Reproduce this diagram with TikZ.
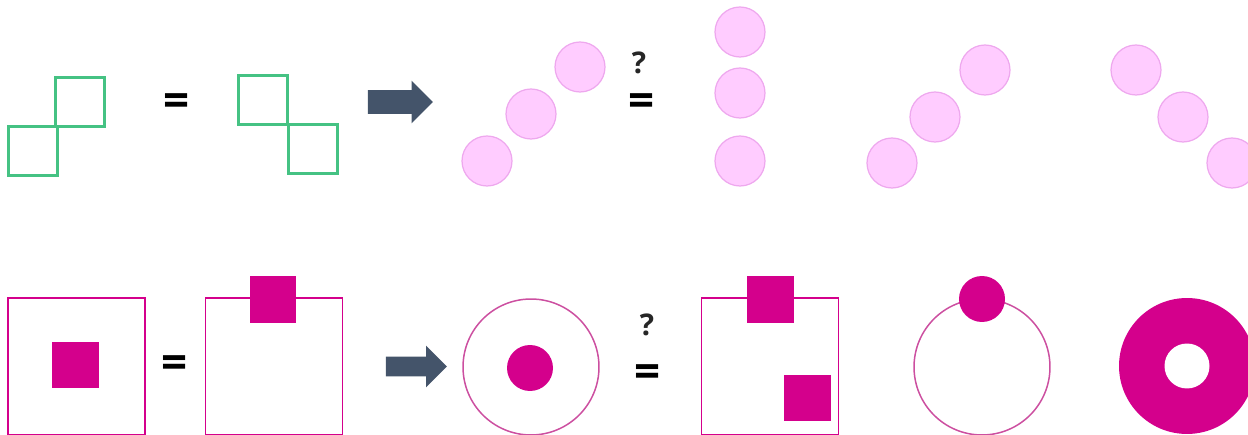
\documentclass[tikz,border=0pt]{standalone}
\usepackage{xcolor}
\usepackage{fontspec}
\setmainfont{Open Sans}
\usepackage{tikz}
\usetikzlibrary{shapes.arrows}
\definecolor{tilegreen}{HTML}{45C283}
\definecolor{dotpink}{HTML}{FFCCFF}
\definecolor{dotrim}{HTML}{EEA8EE}
\definecolor{shapemag}{HTML}{D4008C}
\definecolor{ringmag}{HTML}{CC4FA0}
\definecolor{arrowslate}{HTML}{44546A}

\begin{document}
\begin{tikzpicture}[x=0.02cm, y=-0.02cm,
  every node/.style={inner sep=0pt, outer sep=0pt},
  tile/.style={draw=tilegreen, line width=1.2pt, minimum size=0.98cm},
  dot/.style={circle, draw=dotrim, fill=dotpink, line width=0.7pt, minimum size=1cm},
  frame/.style={draw=shapemag, line width=0.85pt, minimum size=2.74cm},
  ring/.style={circle, draw=ringmag, line width=0.85pt, minimum size=2.72cm},
  block/.style={fill=shapemag, minimum size=0.94cm},
  blob/.style={circle, fill=shapemag, minimum size=0.92cm},
  sign/.style={font=\fontsize{26}{26}\selectfont\bfseries},
  ask/.style={font=\fontsize{17}{17}\selectfont\bfseries, text=black!85},
  push/.style={single arrow, fill=arrowslate, single arrow head extend=0.19cm,
    inner ysep=0.23cm, inner xsep=0pt, minimum height=1.3cm}]
  \useasboundingbox (0,0) rectangle (1248,435);
  \clip (0,0) rectangle (1248,435);

  % top row: green tiles, then the pink dots
  \node[tile] (tA) at (33,151) {};
  \node[tile] (tB) at (80,102) {};
  \node[sign] (eqA) at (177,105) {=};
  \node[tile] (tC) at (263,100) {};
  \node[tile] (tD) at (313,149) {};
  \node[push] (goA) at (394.5,102) {};

  \node[dot] (dA) at (487,161) {};
  \node[dot] (dB) at (531,114) {};
  \node[dot] (dC) at (580,67) {};
  \node[ask] (qA) at (639,63) {?};
  \node[sign] (eqB) at (642,105) {=};
  \node[dot] (vA) at (740,32) {};
  \node[dot] (vB) at (740,93) {};
  \node[dot] (vC) at (740,161) {};
  \node[dot] (uA) at (892,163) {};
  \node[dot] (uB) at (935,117) {};
  \node[dot] (uC) at (985,70) {};
  \node[dot] (wA) at (1136,70) {};
  \node[dot] (wB) at (1183,117) {};
  \node[dot] (wC) at (1232,163) {};

  % bottom row: frames and rings
  \node[frame] (fA) at (76.5,366.5) {};
  \node[block] (bA) at (75.5,365) {};
  \node[sign] (eqC) at (175,367) {=};
  \node[frame] (fB) at (274,366.5) {};
  \node[block] (bB) at (273,299.5) {};
  \node[push, single arrow head extend=0.22cm, inner ysep=0.19cm, minimum height=1.22cm] (goB) at (411.5,366.5) {};

  \node[ring] (rA) at (531,367) {};
  \node[blob] (pA) at (530,368) {};
  \node[ask] (qB) at (647,325) {?};
  \node[sign] (eqD) at (648,376) {=};
  \node[frame] (fC) at (770,366.5) {};
  \node[block] (bC) at (770,299.5) {};
  \node[block] (bD) at (807,398) {};
  \node[ring] (rB) at (982,367) {};
  \node[blob] (pB) at (982,299) {};
  \node[circle, fill=shapemag, minimum size=2.72cm] (donut) at (1187,366) {};
  \node[circle, fill=white, minimum size=0.9cm] (hole) at (donut) {};
\end{tikzpicture}
\end{document}
